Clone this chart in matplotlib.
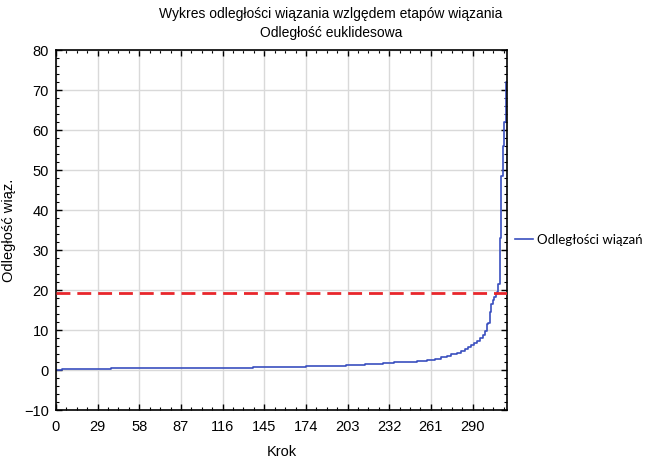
import matplotlib.pyplot as plt
from matplotlib.ticker import MultipleLocator, AutoMinorLocator
from matplotlib.lines import Line2D

# linkage steps where the distance changes (step-post)
step_x = [0, 4, 38, 95, 137, 174, 202, 215, 222, 228, 235, 243, 251, 258,
          264, 268, 272, 275, 279, 282, 285, 287, 289, 291, 293, 295, 297,
          299, 300, 301, 302, 303, 304, 305, 306, 307, 308, 309, 310, 311,
          312, 313, 314]
step_y = [0.1, 0.25, 0.4, 0.6, 0.75, 1.0, 1.25, 1.4, 1.55, 1.7, 1.9, 2.1,
          2.35, 2.6, 2.85, 3.2, 3.5, 3.9, 4.3, 4.7, 5.2, 5.7, 6.2, 6.7, 7.3,
          8.0, 8.8, 9.8, 11.5, 11.8, 14.5, 16.5, 17.5, 18.3, 19.0, 19.6,
          21.5, 33.0, 48.5, 56.0, 62.0, 72.0, 72.0]
cut_level = 19.3
x_ticks = [0, 29, 58, 87, 116, 145, 174, 203, 232, 261, 290]
y_ticks = [-10, 0, 10, 20, 30, 40, 50, 60, 70, 80]

title_text = "Wykres odległości wiązania wzlgędem etapów wiązania\nOdległość euklidesowa"
series_name = "Odległości wiązań"

plt.rcParams["font.family"] = ["Liberation Sans", "DejaVu Sans"]

fig = plt.figure(figsize=(6.47, 4.58), dpi=100)
ax = fig.add_axes([56 / 647, 1 - 410 / 458, (507 - 56) / 647, 360 / 458])

ax.plot(step_x, step_y, drawstyle="steps-post", color="#3a4fbf", lw=1.2)
ax.axhline(cut_level, color="#e8262b", lw=2.0, ls=(0, (5, 2.5)), zorder=3)

ax.set_xlim(0, 314)
ax.set_ylim(-10, 80)
ax.set_xticks(x_ticks)
ax.set_yticks(y_ticks)
ax.xaxis.set_minor_locator(AutoMinorLocator(4))
ax.yaxis.set_minor_locator(MultipleLocator(2))
ax.tick_params(which="both", direction="in", top=True, right=True,
               labelsize=10.5, colors="black")
ax.tick_params(which="major", length=4, width=1)
ax.tick_params(which="minor", length=2.5, width=0.8)
ax.tick_params(axis="x", pad=7)
ax.tick_params(axis="y", pad=5)
ax.grid(which="major", color="#d9d9d9", lw=1.0)
ax.set_axisbelow(True)
for sp in ax.spines.values():
    sp.set_linewidth(1.2)

ax.set_xlabel("Krok", fontsize=10.5, labelpad=8)
ax.set_ylabel("Odległość wiąz.", fontsize=10.5, labelpad=6)

fig.text(331 / 647, 1 - 7 / 458, title_text, ha="center", va="top",
         fontsize=10, linespacing=1.5)

handle = Line2D([], [], color="#3a4fbf", lw=1.2)
fig.legend([handle], [series_name], loc="center left",
           bbox_to_anchor=(511 / 647, 1 - 240 / 458), frameon=False,
           handlelength=1.4, handletextpad=0.3, borderpad=0.1,
           borderaxespad=0.2,
           prop={"family": ["Lato", "DejaVu Sans"], "size": 9.5})

fig.savefig("out.png", dpi=100, facecolor="white")
